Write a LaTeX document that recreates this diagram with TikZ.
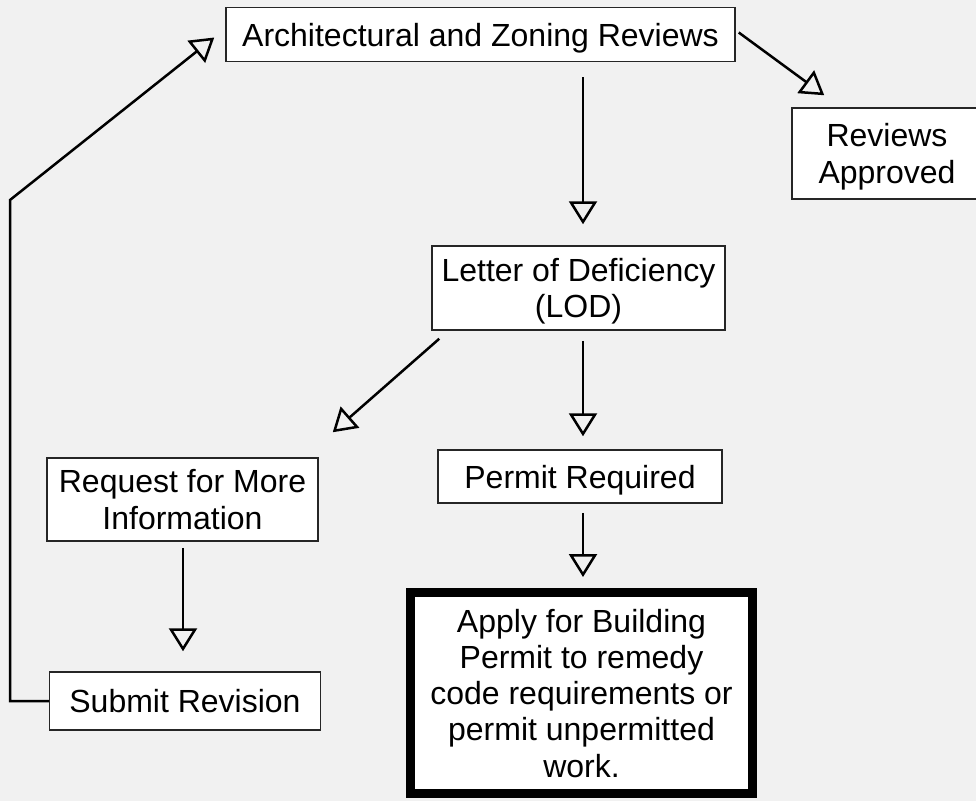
\documentclass[tikz,border=0pt]{standalone}
\usepackage{fontspec}
\setmainfont{Liberation Sans}
\usetikzlibrary{arrows.meta,calc}
\newcommand{\nodepth}[1]{\raisebox{0pt}[\height][0pt]{#1}}
\begin{document}
\begin{tikzpicture}[x=1pt,y=-1pt,
  box/.style={draw=black!85,line width=1.5pt,fill=white,align=center,inner sep=0pt,
    font=\fontsize{32}{36.3}\selectfont},
  thickbox/.style={box,draw=black,line width=9pt},
  flow/.style={line width=2.5pt,-{Triangle[open,length=23pt,width=28pt,line width=2.5pt]}}]
\fill[black!5.5] (0,0) rectangle (976,801);
\useasboundingbox (0,0) rectangle (976,801);
\node[box,minimum width=509pt,minimum height=54pt] (arch) at (480.5,34.5) {\nodepth{Architectural and Zoning Reviews}};
\node[box,minimum width=190pt,minimum height=91pt] (rev) at (887,153.5) {Reviews\\\nodepth{Approved}};
\node[box,minimum width=293pt,minimum height=84pt] (lod) at (578.5,288) {Letter of Deficiency\\\nodepth{(LOD)}};
\node[box,minimum width=271pt,minimum height=83pt] (req) at (182.5,499.5) {Request for More\\\nodepth{Information}};
\node[box,minimum width=284pt,minimum height=53pt] (perm) at (580,476.5) {\nodepth{Permit Required}};
\node[box,minimum width=271pt,minimum height=58pt] (sub) at (185,701) {\nodepth{Submit Revision}};
\node[thickbox,minimum width=342pt,minimum height=201pt] (app) at (581.5,693) {Apply for Building\\Permit to remedy\\code requirements or\\permit unpermitted\\\nodepth{work.}};
\coordinate (c1) at (10,701);
\coordinate (c2) at (10,200);
\draw[flow] ($(arch.east)+(3,-2)$) -- ($(rev.north west)+(33,-12)$);
\draw[flow] ($(arch.south)+(102.5,15)$) -- ($(lod.north)+(4.5,-21)$);
\draw[flow] ($(lod.south west)+(8,8)$) -- ($(req.north east)+(14,-25)$);
\draw[flow] ($(lod.south)+(4.5,10)$) -- ($(perm.north)+(3,-13)$);
\draw[flow] ($(perm.south)+(3,9)$) -- ($(app.north)+(1.5,-11)$);
\draw[flow] ($(req.south)+(0.5,6)$) -- ($(sub.north)+(-2,-20)$);
\draw[flow] (sub.west) -- (c1) -- (c2) -- ($(arch.west)+(-11,3)$);
\end{tikzpicture}
\end{document}
